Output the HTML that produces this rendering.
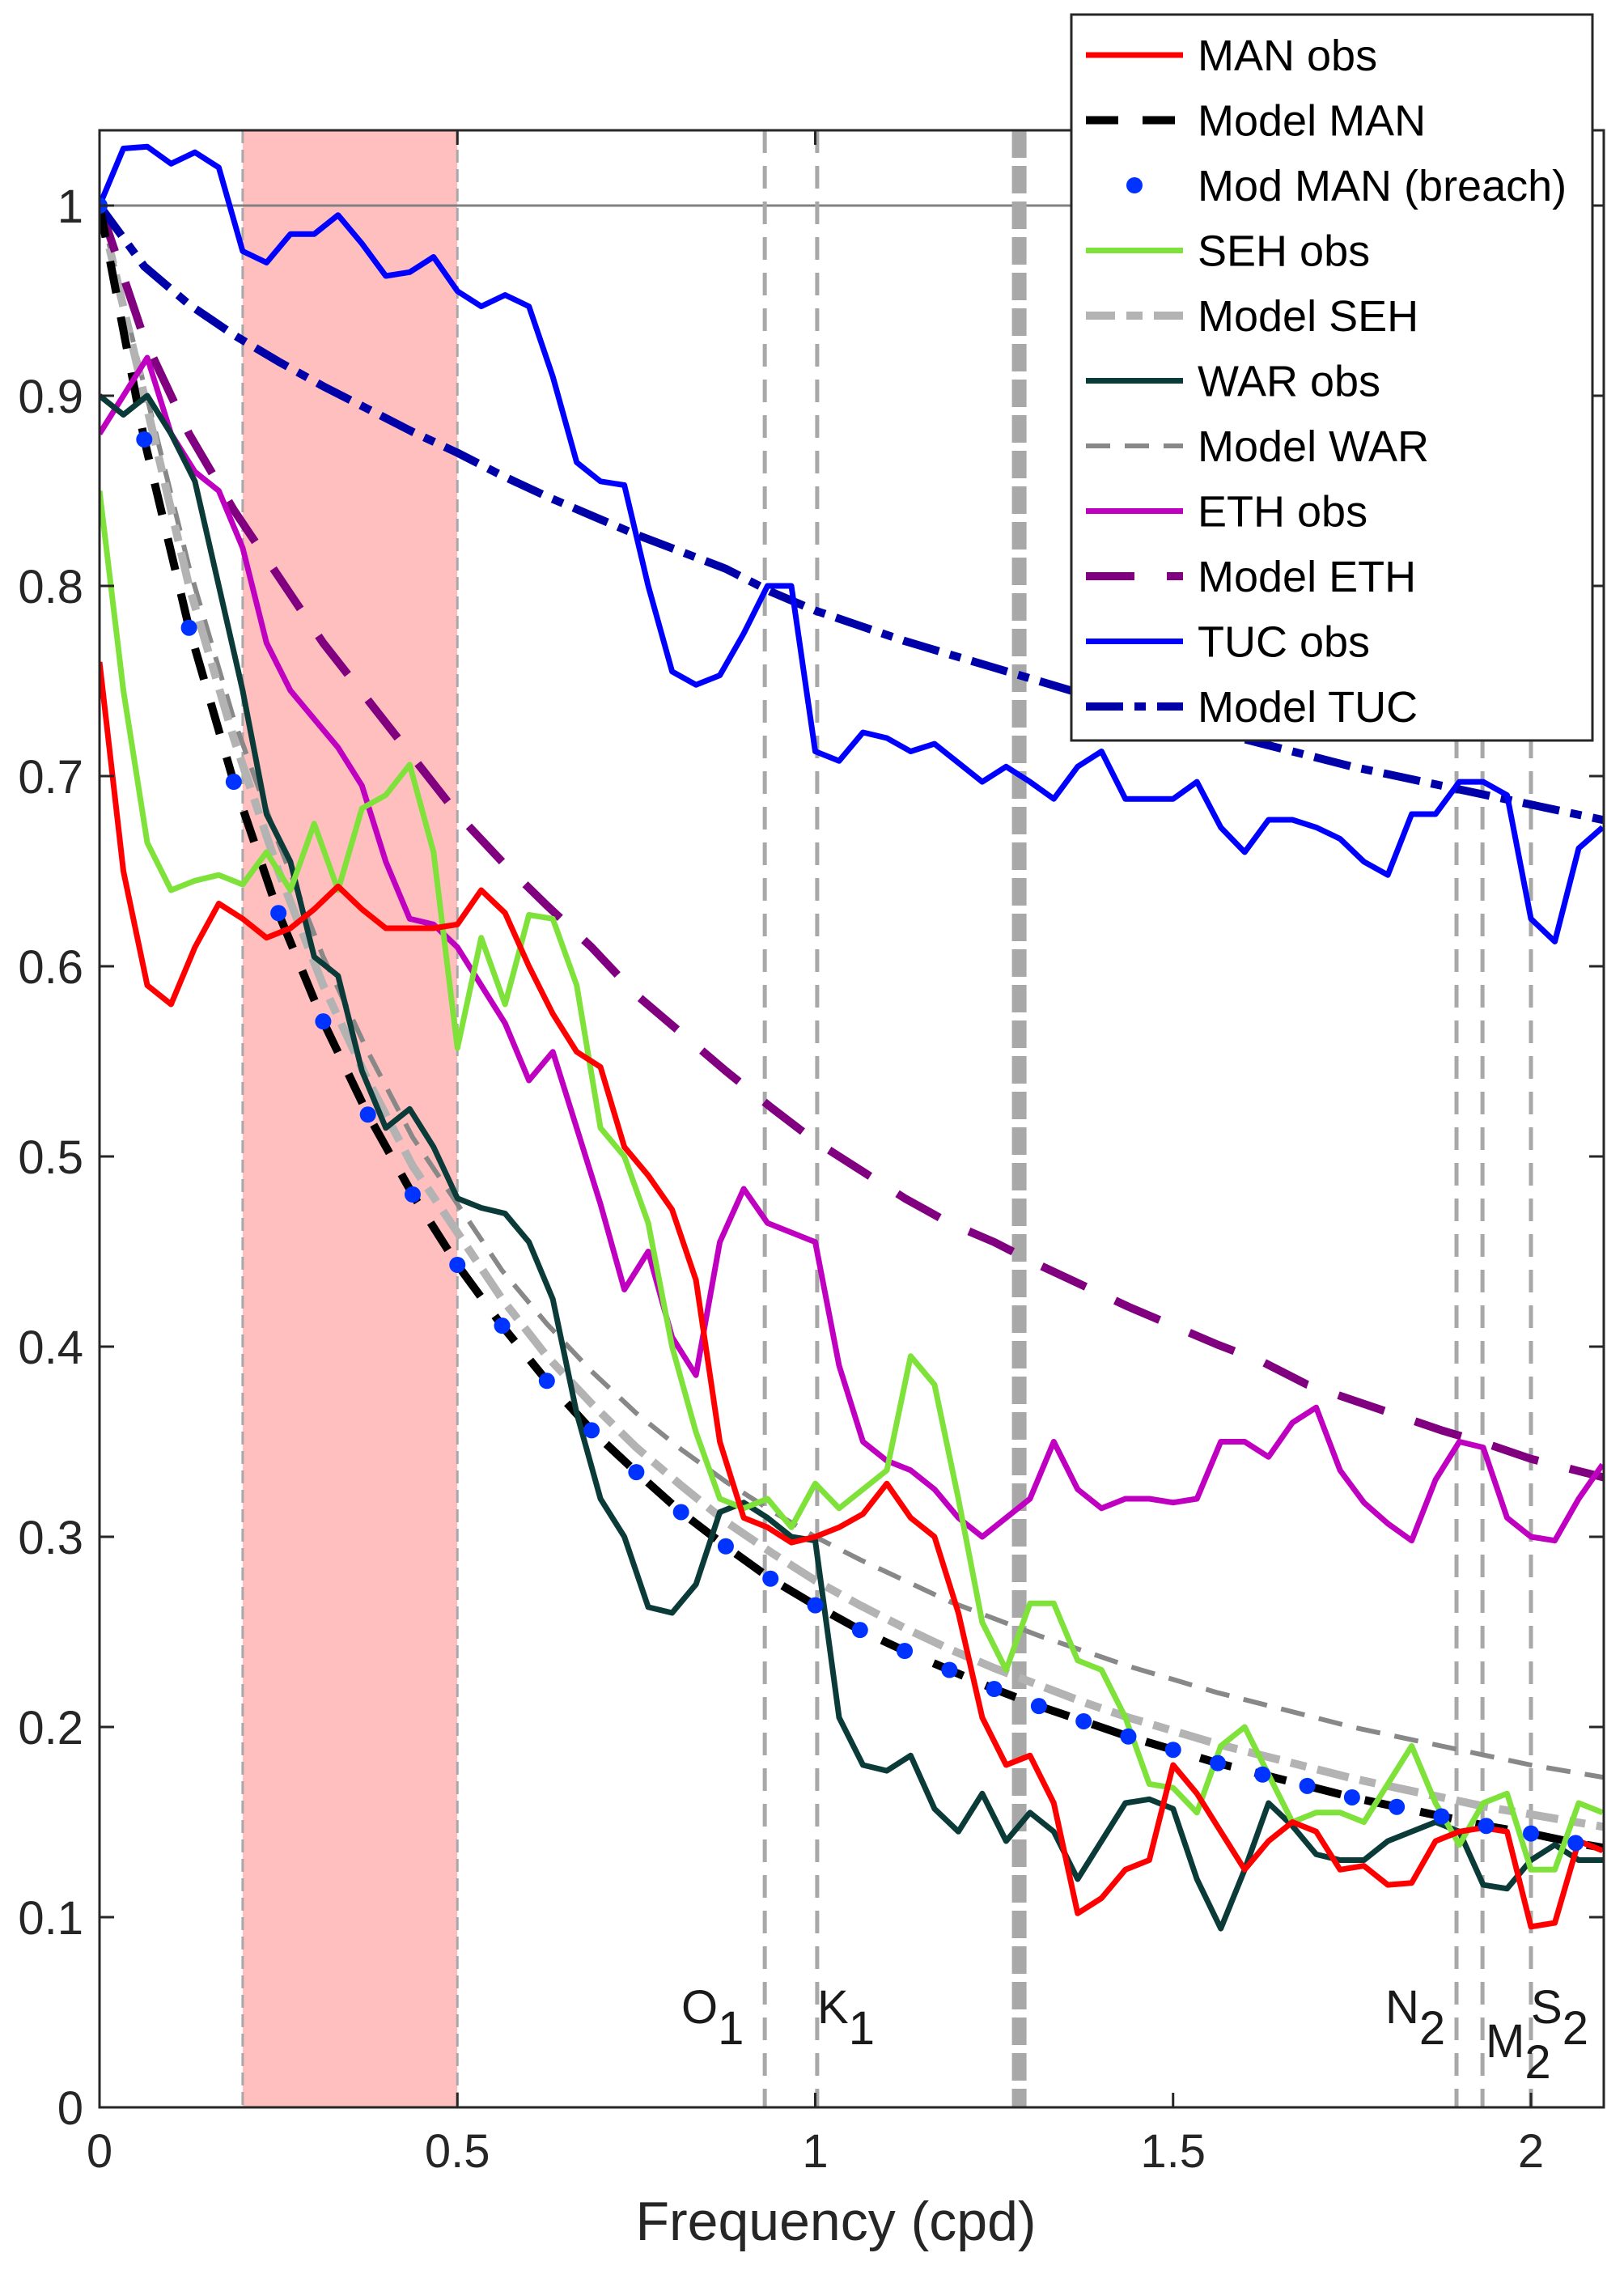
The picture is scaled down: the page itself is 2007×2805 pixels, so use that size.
<!DOCTYPE html>
<html><head><meta charset="utf-8"><style>
html,body{margin:0;padding:0;background:#fff;}
svg{display:block;font-family:"Liberation Sans",sans-serif;}
</style></head><body>
<svg id="chart" width="2007" height="2805" viewBox="0 0 2007 2805" xmlns="http://www.w3.org/2000/svg">
<defs><clipPath id="plotclip"><rect x="123" y="161" width="1859" height="2443"/></clipPath></defs>
<g id="plot" clip-path="url(#plotclip)"></g>
<g id="axes"></g>
<g id="legend"></g>
</svg>
<script>
// ---- data ----
const obsStep = 1/30;
const manObs = [0.76,0.65,0.59,0.58,0.61,0.633,0.625,0.615,0.62,0.63,0.642,0.63,0.62,0.62,0.62,0.622,0.64,0.628,0.60,0.575,0.555,0.547,0.505,0.49,0.472,0.435,0.35,0.31,0.305,0.297,0.30,0.305,0.312,0.328,0.31,0.30,0.26,0.205,0.18,0.185,0.16,0.102,0.11,0.125,0.13,0.18,0.165,0.145,0.125,0.14,0.15,0.145,0.125,0.127,0.117,0.118,0.14,0.145,0.147,0.145,0.095,0.097,0.14,0.135];
const sehObs = [0.85,0.745,0.665,0.64,0.645,0.648,0.643,0.66,0.64,0.675,0.64,0.683,0.69,0.706,0.66,0.557,0.615,0.58,0.627,0.625,0.59,0.515,0.50,0.465,0.40,0.355,0.32,0.315,0.32,0.305,0.328,0.315,0.325,0.335,0.395,0.38,0.32,0.255,0.23,0.265,0.265,0.235,0.23,0.205,0.17,0.168,0.155,0.19,0.20,0.175,0.15,0.155,0.155,0.15,0.17,0.19,0.16,0.138,0.16,0.165,0.125,0.125,0.16,0.155];
const warObs = [0.90,0.89,0.90,0.88,0.855,0.80,0.745,0.68,0.655,0.605,0.595,0.545,0.515,0.525,0.505,0.478,0.473,0.47,0.455,0.425,0.365,0.32,0.30,0.263,0.26,0.275,0.313,0.318,0.31,0.30,0.298,0.205,0.18,0.177,0.185,0.157,0.145,0.165,0.14,0.155,0.145,0.12,0.14,0.16,0.162,0.157,0.12,0.094,0.125,0.16,0.148,0.133,0.13,0.13,0.14,0.145,0.15,0.145,0.117,0.115,0.13,0.138,0.13,0.13];
const ethObs = [0.88,0.90,0.92,0.88,0.86,0.85,0.82,0.77,0.745,0.73,0.715,0.695,0.655,0.625,0.622,0.61,0.59,0.57,0.54,0.555,0.515,0.475,0.43,0.45,0.405,0.385,0.455,0.483,0.465,0.46,0.455,0.39,0.35,0.34,0.335,0.325,0.31,0.30,0.31,0.32,0.35,0.325,0.315,0.32,0.32,0.318,0.32,0.35,0.35,0.342,0.36,0.368,0.335,0.318,0.307,0.298,0.33,0.35,0.347,0.31,0.30,0.298,0.32,0.338];
const tucObs = [1.0,1.03,1.031,1.022,1.028,1.02,0.976,0.97,0.985,0.985,0.995,0.98,0.963,0.965,0.973,0.955,0.947,0.953,0.947,0.91,0.865,0.855,0.853,0.80,0.755,0.748,0.753,0.775,0.80,0.80,0.713,0.708,0.723,0.72,0.713,0.717,0.707,0.697,0.705,0.697,0.688,0.705,0.713,0.688,0.688,0.688,0.697,0.673,0.66,0.677,0.677,0.673,0.667,0.655,0.648,0.68,0.68,0.697,0.697,0.69,0.625,0.613,0.662,0.673];
const modStep = 1/16;
const modelMan = [1.0,0.877,0.778,0.697,0.628,0.571,0.522,0.48,0.443,0.411,0.382,0.356,0.334,0.313,0.295,0.278,0.264,0.251,0.24,0.23,0.22,0.211,0.203,0.195,0.188,0.181,0.175,0.169,0.163,0.158,0.153,0.148,0.144,0.139,0.135];
const breachMan = [1.0,0.877,0.778,0.697,0.628,0.571,0.522,0.48,0.443,0.411,0.382,0.356,0.334,0.313,0.295,0.278,0.264,0.251,0.24,0.23,0.22,0.211,0.203,0.195,0.188,0.181,0.175,0.169,0.163,0.158,0.153,0.148,0.144,0.139];
const modelSeh = [1.0,0.90,0.80,0.72,0.65,0.59,0.54,0.495,0.46,0.425,0.395,0.37,0.347,0.327,0.308,0.292,0.277,0.264,0.252,0.241,0.231,0.222,0.213,0.205,0.198,0.191,0.185,0.179,0.173,0.168,0.163,0.158,0.154,0.15,0.146];
const modelWar = [1.0,0.905,0.81,0.73,0.665,0.605,0.555,0.51,0.475,0.44,0.412,0.387,0.365,0.346,0.329,0.314,0.30,0.288,0.277,0.266,0.257,0.248,0.24,0.232,0.225,0.218,0.212,0.206,0.2,0.195,0.19,0.185,0.18,0.176,0.172];
const modelEth = [1.0,0.93,0.88,0.84,0.805,0.77,0.74,0.71,0.68,0.655,0.632,0.61,0.585,0.565,0.545,0.526,0.508,0.493,0.478,0.465,0.455,0.443,0.432,0.421,0.411,0.401,0.392,0.38,0.372,0.364,0.356,0.349,0.341,0.335,0.329];
const modelTuc = [1.0,0.968,0.948,0.932,0.918,0.905,0.893,0.881,0.87,0.858,0.847,0.837,0.827,0.818,0.809,0.797,0.787,0.779,0.771,0.764,0.757,0.75,0.743,0.736,0.729,0.723,0.717,0.711,0.705,0.70,0.695,0.69,0.685,0.68,0.675];
const xTicks = [0,0.5,1,1.5,2];
const xTickLabels = ["0","0.5","1","1.5","2"];
const yTicks = [0,0.1,0.2,0.3,0.4,0.5,0.6,0.7,0.8,0.9,1];
const yTickLabels = ["0","0.1","0.2","0.3","0.4","0.5","0.6","0.7","0.8","0.9","1"];
const tideFreqs = [0.9295,1.0027,1.8960,1.9323,2.0];
const tideNames = ["O","K","N","M","S"];
const tideSubs = ["1","1","2","2","2"];
const bandRange = [0.2,0.5];
const thickLineFreq = 1.285;

// ---- axes ----
const L=123,R=1982,T=161,B=2604;
const X0=123, XS=884.5, Y0=2604, YS=2350;
const sx=f=>X0+f*XS, sy=v=>Y0-v*YS;
const NS="http://www.w3.org/2000/svg";
function mk(tag,attrs,parent){const e=document.createElementNS(NS,tag);for(const k in attrs)e.setAttribute(k,attrs[k]);parent.appendChild(e);return e;}
const plot=document.getElementById('plot'), axes=document.getElementById('axes'), legend=document.getElementById('legend');

let band=mk('rect',{x:sx(bandRange[0]),y:T,width:sx(bandRange[1])-sx(bandRange[0]),height:B-T,fill:'#ffbfbf'},plot);


bandRange.forEach(f=>{
  let l=mk('line',{x1:sx(f),x2:sx(f),y1:T,y2:B,stroke:'#a8a8a8','stroke-width':3,'stroke-dasharray':'16 8'},plot);
  
  
});
let ul=mk('line',{x1:L,x2:R,y1:sy(1),y2:sy(1),stroke:'#808080','stroke-width':3},plot);


tideFreqs.forEach((f,i)=>{
  let l=mk('line',{x1:sx(f),x2:sx(f),y1:T,y2:B,stroke:'#a8a8a8','stroke-width':5,'stroke-dasharray':'28 16'},plot);
  
  
});
let tl=mk('line',{x1:sx(thickLineFreq),x2:sx(thickLineFreq),y1:T,y2:B,stroke:'#a8a8a8','stroke-width':18,'stroke-dasharray':'34 10'},plot);



function pathOf(arr,step){return arr.map((v,i)=>(i?'L':'M')+sx(i*step).toFixed(1)+' '+sy(v).toFixed(1)).join(' ');}
function series(arr,step,color,w,dash,name){
  const p=mk('path',{d:pathOf(arr,step),fill:'none',stroke:color,'stroke-width':w,'stroke-linejoin':'round'},plot);
  if(dash)p.setAttribute('stroke-dasharray',dash);
  
  
}
series(modelWar,modStep,'#888888',6,'30 18','model-war-line');
series(modelSeh,modStep,'#b3b3b3',10,'40 14 20 14','model-seh-line');
series(modelEth,modStep,'#800080',10,'60 40','model-eth-line');
series(modelTuc,modStep,'#0000a8',10,'46 14 14 14','model-tuc-line');
series(modelMan,modStep,'#000000',10,'40 30','model-man-line');
series(tucObs,obsStep,'#0000ff',7,null,'tuc-obs-line');
series(ethObs,obsStep,'#c000c0',7,null,'eth-obs-line');
series(warObs,obsStep,'#0b3b38',7,null,'war-obs-line');
series(sehObs,obsStep,'#7ee23a',7,null,'seh-obs-line');
series(manObs,obsStep,'#ff0000',7,null,'man-obs-line');
breachMan.forEach((v,i)=>{
  const c=mk('circle',{cx:sx(i*modStep),cy:sy(v),r:10,fill:'#0033ff'},plot);
  
  
});
tideNames.forEach((n,i)=>{
  const lx=[842,1010,1712,1836,1892][i], ly=[2500,2500,2500,2542,2500][i];
  const t=mk('text',{x:lx,y:ly,'font-size':58,fill:'#1a1a1a'},axes);
  t.textContent=n;
  const s=mk('tspan',{dy:26,'font-size':58},t); s.textContent=tideSubs[i];
  
  
});
let box=mk('rect',{x:L,y:T,width:R-L,height:B-T,fill:'none',stroke:'#262626','stroke-width':3},axes);


xTicks.forEach((f,i)=>{
  mk('line',{x1:sx(f),x2:sx(f),y1:B,y2:B-18,stroke:'#262626','stroke-width':3},axes);
  mk('line',{x1:sx(f),x2:sx(f),y1:T,y2:T+18,stroke:'#262626','stroke-width':3},axes);
  const t=mk('text',{x:sx(f),y:B+74,'font-size':58,'text-anchor':'middle',fill:'#262626'},axes);
  t.textContent=xTickLabels[i];
  
  
});
yTicks.forEach((v,i)=>{
  mk('line',{x1:L,x2:L+18,y1:sy(v),y2:sy(v),stroke:'#262626','stroke-width':3},axes);
  mk('line',{x1:R,x2:R-18,y1:sy(v),y2:sy(v),stroke:'#262626','stroke-width':3},axes);
  const t=mk('text',{x:L-20,y:sy(v)+21,'font-size':58,'text-anchor':'end',fill:'#262626'},axes);
  t.textContent=yTickLabels[i];
  
  
});
let xt=mk('text',{x:1033,y:2768,'font-size':68,'text-anchor':'middle',fill:'#262626'},axes);
xt.textContent='Frequency (cpd)';



let lb=mk('rect',{x:1324,y:18,width:644,height:897,fill:'#fff',stroke:'#262626','stroke-width':3},legend);


const legLabels=['MAN obs','Model MAN','Mod MAN (breach)','SEH obs','Model SEH','WAR obs','Model WAR','ETH obs','Model ETH','TUC obs','Model TUC'];
const legColors=['#ff0000','#000000','#0033ff','#7ee23a','#b3b3b3','#0b3b38','#888888','#c000c0','#800080','#0000ff','#0000a8'];
const legDash=[null,'40 30','dot',null,'36 14 20 14',null,'30 18',null,'60 40',null,'46 14 14 14'];
const legW=[7,10,0,7,10,7,6,7,10,7,10];
legLabels.forEach((lab,i)=>{
  const y=68+i*80.5;
  const g=mk('g',{},legend);
  
  
  if(legDash[i]==='dot'){mk('circle',{cx:1402,cy:y,r:10,fill:legColors[i]},g);}
  else{const l=mk('line',{x1:1342,x2:1462,y1:y,y2:y,stroke:legColors[i],'stroke-width':legW[i]},g);if(legDash[i])l.setAttribute('stroke-dasharray',legDash[i]);}
  const t=mk('text',{x:1480,y:y+19,'font-size':54,fill:'#000'},g);
  t.textContent=lab;
});
</script>
</body></html>
